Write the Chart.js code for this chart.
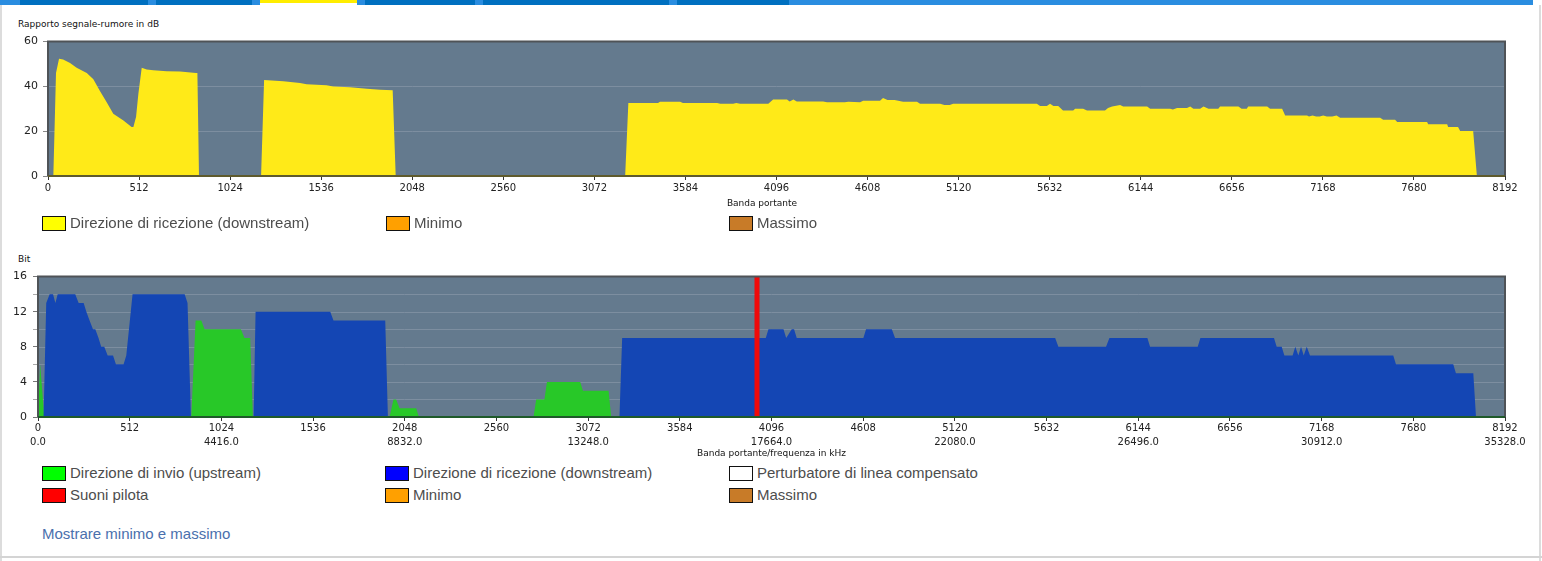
<!DOCTYPE html>
<html>
<head>
<meta charset="utf-8">
<script src="https://cdn.jsdelivr.net/npm/chart.js@4.4.1/dist/chart.umd.min.js"></script>
<style>
  html,body{margin:0;padding:0;background:#fff;width:1542px;height:561px;overflow:hidden;position:relative;font-family:"DejaVu Sans",sans-serif;}
  .abs{position:absolute;}
  .bar{position:absolute;top:0;height:5px;}
  .small{position:absolute;font-family:"DejaVu Sans",sans-serif;font-size:9px;color:#111;white-space:nowrap;line-height:12px;}
  .leg{position:absolute;font-family:"Liberation Sans",sans-serif;font-size:15px;color:#4d4d4d;white-space:nowrap;line-height:18px;}
  .leg i{position:absolute;left:0;top:2px;width:22px;height:13px;border:1.5px solid #111;}
  .leg span{position:absolute;left:28px;top:0;}
</style>
</head>
<body>
<!-- frame -->
<div class="abs" style="left:0;top:0;width:1542px;height:5px;background:#2a8de0;"></div>
<div class="bar" style="left:20px;width:128px;background:#0070c0;"></div>
<div class="bar" style="left:156px;width:96px;background:#0070c0;"></div>
<div class="bar" style="left:260px;width:97px;height:3px;background:#ffed00;"></div>
<div class="bar" style="left:260px;top:3px;width:97px;height:2px;background:#fff;"></div>
<div class="bar" style="left:365px;width:110px;background:#0070c0;"></div>
<div class="bar" style="left:483px;width:186px;background:#0070c0;"></div>
<div class="bar" style="left:677px;width:112px;background:#0070c0;"></div>
<div class="abs" style="left:1533px;top:0;width:9px;height:5px;background:#fff;"></div>
<div class="abs" style="left:0;top:5px;width:2px;height:556px;background:#dcdcdc;"></div>
<div class="abs" style="left:1539px;top:5px;width:2px;height:556px;background:#dcdcdc;"></div>
<div class="abs" style="left:0;top:556px;width:1542px;height:2px;background:#d4d4d4;"></div>

<div class="small" style="left:18px;top:18px;">Rapporto segnale-rumore in dB</div>
<canvas id="c1" class="abs" style="left:0;top:30px;" width="1542" height="186"></canvas>
<div class="small" style="left:762px;top:197px;transform:translateX(-50%);">Banda portante</div>

<div class="leg" style="left:42px;top:214px;"><i style="background:#ffff00"></i><span>Direzione di ricezione (downstream)</span></div>
<div class="leg" style="left:386px;top:214px;"><i style="background:#ffa000"></i><span>Minimo</span></div>
<div class="leg" style="left:729px;top:214px;"><i style="background:#c87b28"></i><span>Massimo</span></div>

<div class="small" style="left:18px;top:253px;">Bit</div>
<canvas id="c2" class="abs" style="left:0;top:264px;" width="1542" height="200"></canvas>

<div class="leg" style="left:42px;top:464px;"><i style="background:#00ff00"></i><span>Direzione di invio (upstream)</span></div>
<div class="leg" style="left:385px;top:464px;"><i style="background:#0000ff"></i><span>Direzione di ricezione (downstream)</span></div>
<div class="leg" style="left:729px;top:464px;"><i style="background:#ffffff"></i><span>Perturbatore di linea compensato</span></div>
<div class="leg" style="left:42px;top:486px;"><i style="background:#ff0000"></i><span>Suoni pilota</span></div>
<div class="leg" style="left:385px;top:486px;"><i style="background:#ffa000"></i><span>Minimo</span></div>
<div class="leg" style="left:729px;top:486px;"><i style="background:#c87b28"></i><span>Massimo</span></div>

<div class="leg" style="left:42px;top:525px;color:#4a70ad;">Mostrare minimo e massimo</div>

<script>
// ---------- DATA ----------
const snrTone = [0,30,45,62,85,124,161,218,255,292,330,367,424,470,480,495,508,527,555,592,667,742,832,840,849,
  1198,1215,1323,1417,1454,1566,1604,1698,1792,1867,1938,1955,
  3245,3263,3430,3441,3554,3570,3762,3780,3852,3870,3891,4050,4077,4155,4170,4191,4210,4229,4358,4380,4480,4500,4566,4583,4678,4695,4720,4760,4808,4886,4903,5016,5040,5070,5089,
  5560,5578,5616,5634,5653,5680,5707,5764,5775,5820,5842,5943,5960,5983,6028,6045,6180,6197,6309,6325,6348,6404,6422,6440,6478,6497,6525,6580,6590,6693,6711,6740,6748,6855,6871,6939,6956,7079,7090,7110,7130,7150,7170,7190,7220,7245,7265,7490,7507,7574,7586,7754,7760,7867,7872,7928,7940,8013,8034,8192];
const snrDb = [0,0,46,52.3,52,50.5,48.3,46,43.2,38,32.9,27.8,24.8,21.9,21.9,26.3,36.6,48.3,47.6,47.2,46.8,46.6,46,46,0,
  0,42.9,42.3,41.5,41,40.5,40,39.6,39,38.5,38.3,0,
  0,32.6,32.6,33.2,33.2,32.6,32.6,32.2,32.2,32.6,32.2,32.2,34.1,34.1,33.3,34.1,33.3,33.3,33.3,32.9,32.9,33.2,32.9,33.6,33.6,34.8,33.9,33.9,33.2,33.2,32.2,32.2,31.7,31.7,32.2,
  32.2,31.3,31.3,32.2,31.3,31.3,29.2,29.2,30,30,29.2,29.2,30.4,31,31.7,31,31,30,30,29.7,30.4,30.4,31,30,30,31,30,30,31,31,30,30,31,31,30,30,27,27,26.6,27,26.6,26.6,27,26.6,26.6,27,26,26,25.1,25.1,24.1,24.1,23.1,23.1,21.9,21.9,20.1,20.1,0,0];

const downTone = [0,31,46,65,84,97,110,208,227,255,270,288,307,320,338,353,370,389,419,435,478,493,528,819,835,854,
  1204,1215,1632,1650,1939,1954,
  3247,3262,4064,4079,4163,4178,4209,4222,4237,4609,4624,4768,4786,5680,5698,5964,5983,6195,6210,6476,6491,6902,6917,6945,6960,7006,7021,7038,7053,7068,7085,7103,7568,7583,7903,7918,8015,8030,8192];
const downBits = [0,0,13,14,14,13,14,14,13,13,12,11,10,10,9,8,8,7,7,6,6,7,14,14,13,0,
  0,12,12,11,11,0,
  0,9,9,10,10,9,10,10,9,9,10,10,9,9,8,8,9,9,8,8,9,9,8,8,7,7,8,7,8,7,8,7,7,6,6,5,5,0,0];

const upTone = [0,3,12,35,856,880,912,930,1133,1153,1185,1200,1963,1985,2000,2019,2112,2127,2767,2782,2828,2842,3028,3043,3186,3201,8192];
const upBits = [0,0,6,0,0,11,11,10,10,9,9,0,0,2,2,1,1,0,0,2,2,4,4,3,3,0,0];

const pilotTone = [4015];
const pilotBits = [16];

const toneTicks = [0,512,1024,1536,2048,2560,3072,3584,4096,4608,5120,5632,6144,6656,7168,7680,8192];
const freqLabels = ['0.0','','4416.0','','8832.0','','13248.0','','17664.0','','22080.0','','26496.0','','30912.0','','35328.0'];
const snrTicks = [0,20,40,60];
const bitTicks = [0,4,8,12,16];

// ---------- HELPERS ----------
const pts = (xs, ys) => xs.map((x, i) => ({x, y: ys[i]}));
const PLOT_BG = '#647a8e';
function areaPlugin(bottomColor){
  return {
    id:'area',
    beforeDatasetsDraw(chart){
      const a = chart.chartArea, c = chart.ctx;
      c.save(); c.fillStyle = PLOT_BG; c.fillRect(a.left, a.top, a.right-a.left, a.bottom-a.top);
      const y = chart.scales.y;
      c.strokeStyle = '#7d8ea0'; c.lineWidth = 1;
      y.ticks.forEach(t => { const py = Math.round(y.getPixelForValue(t.value))+0.5;
        if (t.value > y.min && t.value < y.max){ c.beginPath(); c.moveTo(a.left, py); c.lineTo(a.right, py); c.stroke(); } });
      c.restore();
    },
    afterDatasetsDraw(chart){
      const a = chart.chartArea, c = chart.ctx;
      c.save(); c.lineWidth = 2; c.strokeStyle = '#4f5357';
      c.beginPath(); c.moveTo(a.left, a.bottom); c.lineTo(a.left, a.top); c.lineTo(a.right, a.top); c.lineTo(a.right, a.bottom); c.stroke();
      c.strokeStyle = bottomColor; c.beginPath(); c.moveTo(a.left, a.bottom); c.lineTo(a.right, a.bottom); c.stroke();
      c.restore();
    }
  };
}
Chart.defaults.font.family = '"DejaVu Sans", sans-serif';
Chart.defaults.color = '#222';
Chart.defaults.animation = false;

// ---------- CHART 1 ----------
new Chart(document.getElementById('c1'), {
  type:'line',
  data:{ datasets:[{ data: pts(snrTone, snrDb), fill:'origin', backgroundColor:'#ffea18', borderWidth:0, pointRadius:0, tension:0 }]},
  options:{
    responsive:false, devicePixelRatio:1,
    layout:{ padding:{ left:0, right:37, top:10, bottom:0 }, autoPadding:false },
    plugins:{ legend:{display:false}, tooltip:{enabled:false} },
    scales:{
      x:{ type:'linear', min:0, max:8192,
        afterBuildTicks(s){ s.ticks = toneTicks.map(v=>({value:v})); },
        afterFit(s){ s.height = 40; },
        ticks:{ font:{size:10}, padding:2, maxRotation:0, autoSkip:false, callback:(v)=>String(v) },
        grid:{ drawOnChartArea:false, drawTicks:true, tickLength:4, tickColor:'#333' },
        border:{ display:false },
        title:{ display:false } },
      y:{ min:0, max:60,
        afterBuildTicks(s){ s.ticks = snrTicks.map(v=>({value:v})); },
        afterFit(s){ s.width = 48; },
        ticks:{ font:{size:11}, padding:5, color:'#222' },
        grid:{ drawOnChartArea:false, tickLength:5, tickColor:'#888' },
        border:{ display:false } }
    }
  },
  plugins:[areaPlugin('#5f5b2d')]
});

// ---------- CHART 2 ----------
new Chart(document.getElementById('c2'), {
  type:'line',
  data:{ datasets:[
    { data: pts(pilotTone.concat(pilotTone), [0].concat(pilotBits)), borderColor:'#f00a0a', borderWidth:5, pointRadius:0, fill:false, order:0 },
    { data: pts(downTone, downBits), fill:'origin', backgroundColor:'#1446b4', borderWidth:0, pointRadius:0, tension:0, order:1 },
    { data: pts(upTone, upBits), fill:'origin', backgroundColor:'#28c828', borderWidth:0, pointRadius:0, tension:0, order:2 }
  ]},
  options:{
    responsive:false, devicePixelRatio:1,
    layout:{ padding:{ left:0, right:37, top:10, bottom:0 }, autoPadding:false },
    plugins:{ legend:{display:false}, tooltip:{enabled:false} },
    scales:{
      x:{ type:'linear', min:0, max:8192,
        afterBuildTicks(s){ s.ticks = toneTicks.map(v=>({value:v})); },
        afterFit(s){ s.height = 47; },
        ticks:{ font:{size:10, lineHeight:1.35}, padding:1, maxRotation:0, autoSkip:false,
          callback:(v, i)=> freqLabels[i] ? [String(v), freqLabels[i]] : String(v) },
        grid:{ drawOnChartArea:false, drawTicks:true, tickLength:4, tickColor:'#333' },
        border:{ display:false },
        title:{ display:true, text:'Banda portante/frequenza in kHz', font:{size:9}, color:'#111', padding:{top:0,bottom:5} } },
      y:{ min:0, max:16,
        afterBuildTicks(s){ const t=[]; for(let v=0; v<=16; v+=2) t.push({value:v}); s.ticks = t; },
        afterFit(s){ s.width = 38; },
        ticks:{ font:{size:11}, padding:6, color:'#222', callback:(v)=> bitTicks.includes(v) ? String(v) : '' },
        grid:{ drawOnChartArea:false, tickLength:5, tickColor:(ctx)=> (ctx.tick && ctx.tick.value % 4) ? '#aaa' : '#777' },
        border:{ display:false } }
    }
  },
  plugins:[areaPlugin('#1f5a2a')]
});
</script>
</body>
</html>
